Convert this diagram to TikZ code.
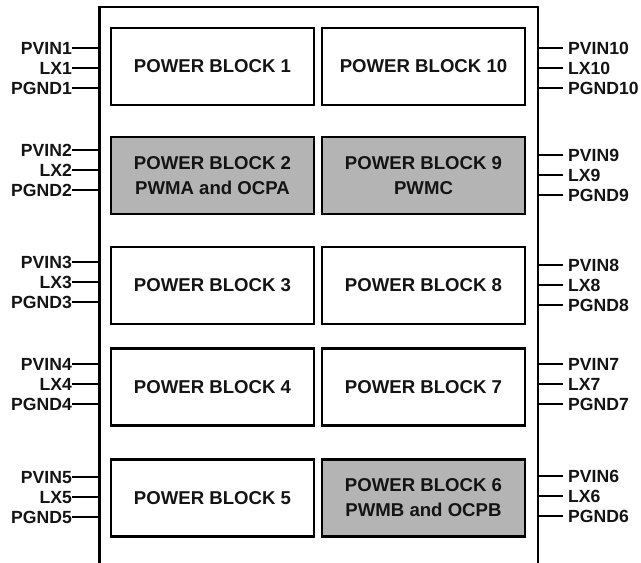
\documentclass[tikz,border=0pt]{standalone}
\usepackage{fontspec}
\setmainfont{Liberation Sans}
\definecolor{blockgray}{RGB}{180,180,180}
\definecolor{inkc}{RGB}{20,20,20}
\begin{document}
\begin{tikzpicture}[x=1pt,y=-1pt,
  font=\fontsize{17.6}{25}\selectfont\bfseries,
  pblock/.style={draw=black,line width=2.6pt,minimum width=203pt,minimum height=77pt,inner sep=0pt,align=center,text=inkc,fill=white,font=\fontsize{18.6}{25}\selectfont\bfseries},
  graybl/.style={pblock,fill=blockgray},
  pinL/.style={anchor=east,inner sep=0pt,text=inkc,text height=12.5pt,text depth=0pt},
  pinR/.style={anchor=west,inner sep=0pt,text=inkc,text height=12.5pt,text depth=0pt},
  wire/.style={line width=2pt}]
\useasboundingbox (0,0) rectangle (641,563);
% outer frame, open at the bottom
\coordinate (fbl) at (99.5,564);
\coordinate (ftl) at (99.5,7);
\coordinate (ftr) at (538,7);
\coordinate (fbr) at (538,564);
\draw[line width=2.2pt] (fbl) -- (ftl) -- (ftr) -- (fbr);
% blocks
\node[pblock] (b1)  at (212.5,66.5) {POWER BLOCK 1};
\node[pblock] (b10) at (423.5,66.5) {POWER BLOCK 10};
\node[graybl] (b2)  at (212.5,175.5) {POWER BLOCK 2\\PWMA and OCPA};
\node[graybl] (b9)  at (423.5,175.5) {POWER BLOCK 9\\PWMC};
\node[pblock] (b3)  at (212.5,285.5) {POWER BLOCK 3};
\node[pblock] (b8)  at (423.5,285.5) {POWER BLOCK 8};
\node[pblock] (b4)  at (212.5,387) {POWER BLOCK 4};
\node[pblock] (b7)  at (423.5,387) {POWER BLOCK 7};
\node[pblock] (b5)  at (212.5,498) {POWER BLOCK 5};
\node[graybl] (b6)  at (423.5,498) {POWER BLOCK 6\\PWMB and OCPB};
% left pins
\foreach \n/\y in {1/48,2/150,3/262,4/364,5/477}{
  \node[pinL] (pvl\n) at (72,\y) {PVIN\n};
  \node[pinL] (lxl\n) at (72,\y+20) {LX\n};
  \node[pinL] (pgl\n) at (72,\y+40) {PGND\n};
  \coordinate (cpvl\n) at (99.5,\y);
  \coordinate (clxl\n) at (99.5,\y+20);
  \coordinate (cpgl\n) at (99.5,\y+40);
  \draw[wire] (pvl\n.east) -- (cpvl\n);
  \draw[wire] (lxl\n.east) -- (clxl\n);
  \draw[wire] (pgl\n.east) -- (cpgl\n);
}
% right pins
\foreach \n/\y in {10/48,9/155,8/265,7/364,6/476}{
  \coordinate (cpvr\n) at (538,\y);
  \coordinate (clxr\n) at (538,\y+20);
  \coordinate (cpgr\n) at (538,\y+40);
  \node[pinR] (pvr\n) at (568,\y) {PVIN\n};
  \node[pinR] (lxr\n) at (568,\y+20) {LX\n};
  \node[pinR] (pgr\n) at (568,\y+40) {PGND\n};
  \draw[wire] (cpvr\n) -- ([xshift=-5pt]pvr\n.west);
  \draw[wire] (clxr\n) -- ([xshift=-5pt]lxr\n.west);
  \draw[wire] (cpgr\n) -- ([xshift=-5pt]pgr\n.west);
}
\end{tikzpicture}
\end{document}
